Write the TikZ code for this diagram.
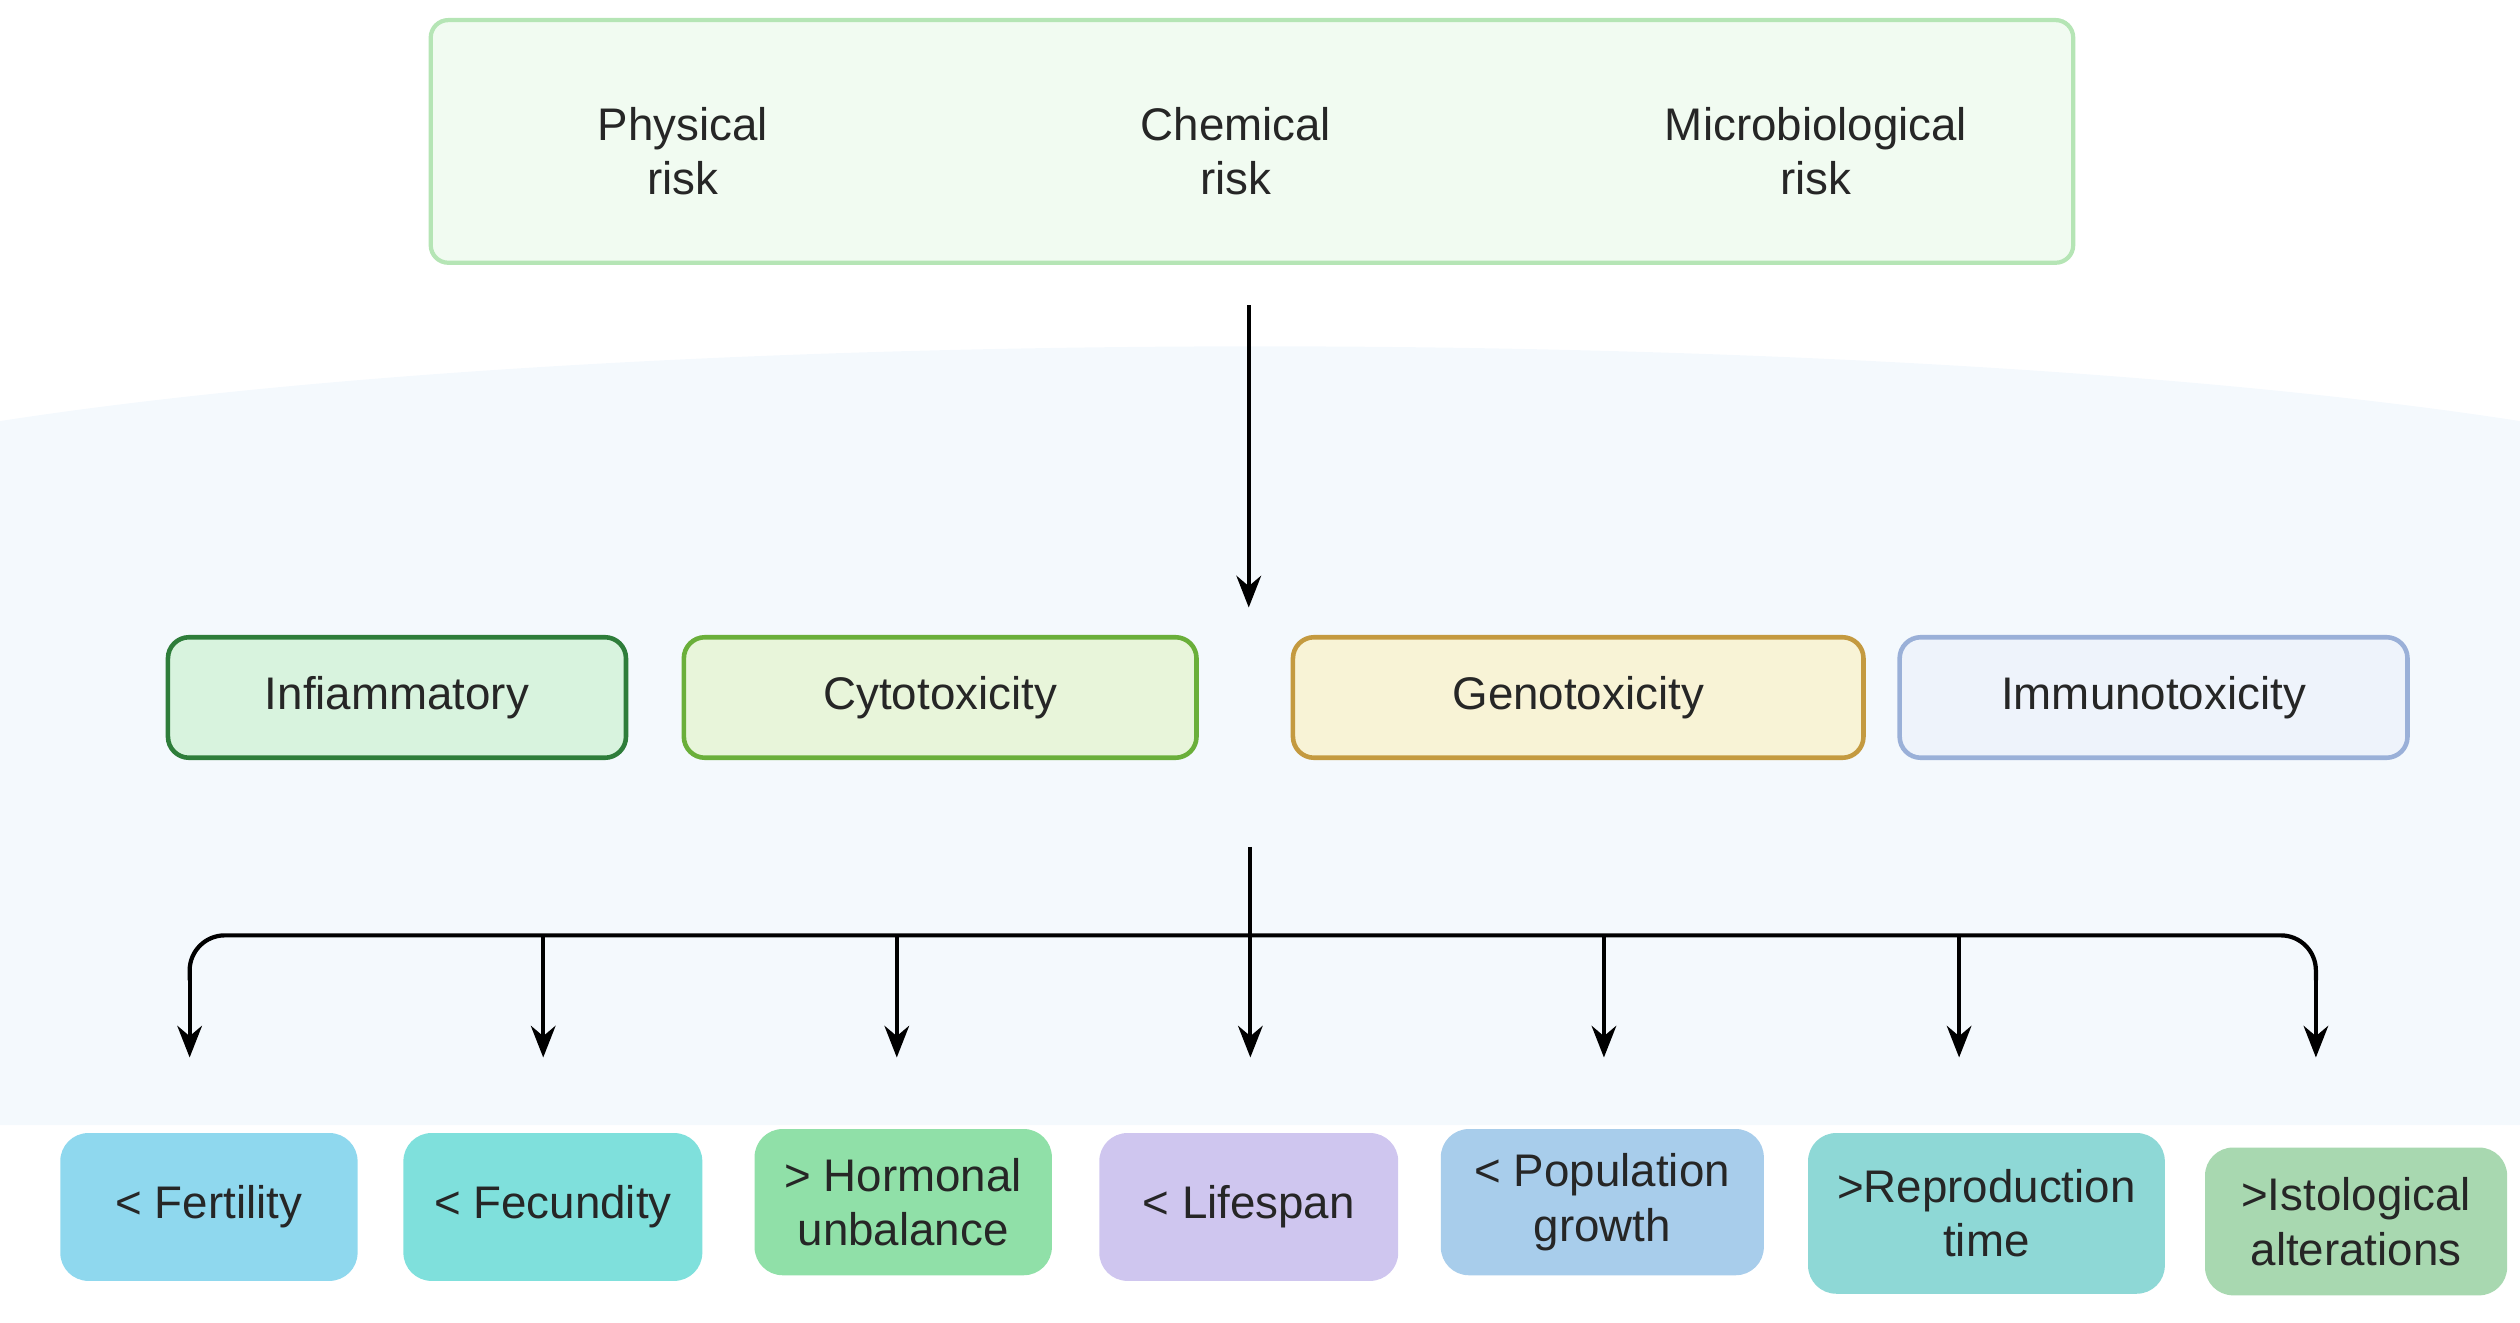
\documentclass[tikz,border=0pt]{standalone}
\usepackage{fontspec}
\setmainfont{Liberation Sans}
\usetikzlibrary{arrows.meta}
\definecolor{bgb}{HTML}{F4F9FD}
\begin{document}
\begin{tikzpicture}[x=0.01607cm,y=-0.01607cm,
  txt/.style={font=\fontsize{13}{15.5}\selectfont,text=black!85,align=center},
  mid/.style={rounded corners=6pt,line width=1.3pt},
  bot/.style={rounded corners=8pt,draw=none},
  arr/.style={line width=1.2pt,-{Stealth[length=9pt,width=7pt]}}]
\useasboundingbox (0,0) rectangle (1568,823);
\fill[bgb] (0,262) .. controls (400,200) and (1168,200) .. (1568,262) -- (1568,700) -- (0,700) -- cycle;
\node[draw={rgb,255:red,181;green,229;blue,181},fill={rgb,255:red,241;green,251;blue,241},line width=1.2pt,rounded corners=5pt,minimum width=1022*0.01607cm,minimum height=151*0.01607cm,inner sep=0] (top) at (779,88) {};
\node[txt] (phy) at (425,94) {Physical\\risk};
\node[txt] (che) at (769,94) {Chemical\\risk};
\node[txt] (mic) at (1130,94) {Microbiological\\risk};
\coordinate (a1) at (777,190);
\coordinate (a2) at (777,378);
\draw[arr] (a1) -- (a2);
\node[mid,draw={rgb,255:red,46;green,125;blue,58},fill={rgb,255:red,216;green,243;blue,222},minimum width=285*0.01607cm,minimum height=75*0.01607cm,txt] (inf) at (247,434) {Infiammatory};
\node[mid,draw={rgb,255:red,106;green,175;blue,58},fill={rgb,255:red,232;green,245;blue,218},minimum width=319*0.01607cm,minimum height=75*0.01607cm,txt] (cyt) at (585,434) {Cytotoxicity};
\node[mid,draw={rgb,255:red,196;green,154;blue,64},fill={rgb,255:red,248;green,243;blue,214},minimum width=355*0.01607cm,minimum height=75*0.01607cm,txt] (gen) at (982,434) {Genotoxicity};
\node[mid,draw={rgb,255:red,154;green,176;blue,216},fill={rgb,255:red,238;green,243;blue,251},minimum width=316*0.01607cm,minimum height=75*0.01607cm,txt] (imm) at (1340,434) {Immunotoxicity};
\coordinate (s) at (778,527);
\coordinate (h) at (778,582);
\draw[line width=1.2pt,rounded corners=10pt] (118,610) -- (118,582) -- (1441,582) -- (1441,610);
\draw[line width=1.2pt] (s) -- (h);
\foreach \x/\n/\y in {118/e1/605,338/e2/582,558/e3/582,778/e4/582,998/e5/582,1219/e6/582,1441/e7/605}{
  \coordinate (\n) at (\x,658);
  \draw[arr] (\x,\y) -- (\n);}
\node[bot,fill={rgb,255:red,143;green,216;blue,238},minimum width=185*0.01607cm,minimum height=92*0.01607cm,txt] (b1) at (130,751) {< Fertility};
\node[bot,fill={rgb,255:red,127;green,224;blue,220},minimum width=186*0.01607cm,minimum height=92*0.01607cm,txt] (b2) at (344,751) {< Fecundity};
\node[bot,fill={rgb,255:red,144;green,224;blue,168},minimum width=185*0.01607cm,minimum height=91*0.01607cm,txt] (b3) at (562,748) {> Hormonal\\unbalance};
\node[bot,fill={rgb,255:red,207;green,198;blue,239},minimum width=186*0.01607cm,minimum height=92*0.01607cm,txt] (b4) at (777,751) {< Lifespan};
\node[bot,fill={rgb,255:red,168;green,205;blue,235},minimum width=201*0.01607cm,minimum height=91*0.01607cm,txt] (b5) at (997,748) {< Population\\growth};
\node[bot,fill={rgb,255:red,142;green,216;blue,214},minimum width=222*0.01607cm,minimum height=100*0.01607cm,txt] (b6) at (1236,755) {>Reproduction\\time};
\node[bot,fill={rgb,255:red,168;green,216;blue,176},minimum width=188*0.01607cm,minimum height=92*0.01607cm,txt] (b7) at (1466,760) {>Istological\\alterations};
\end{tikzpicture}
\end{document}
